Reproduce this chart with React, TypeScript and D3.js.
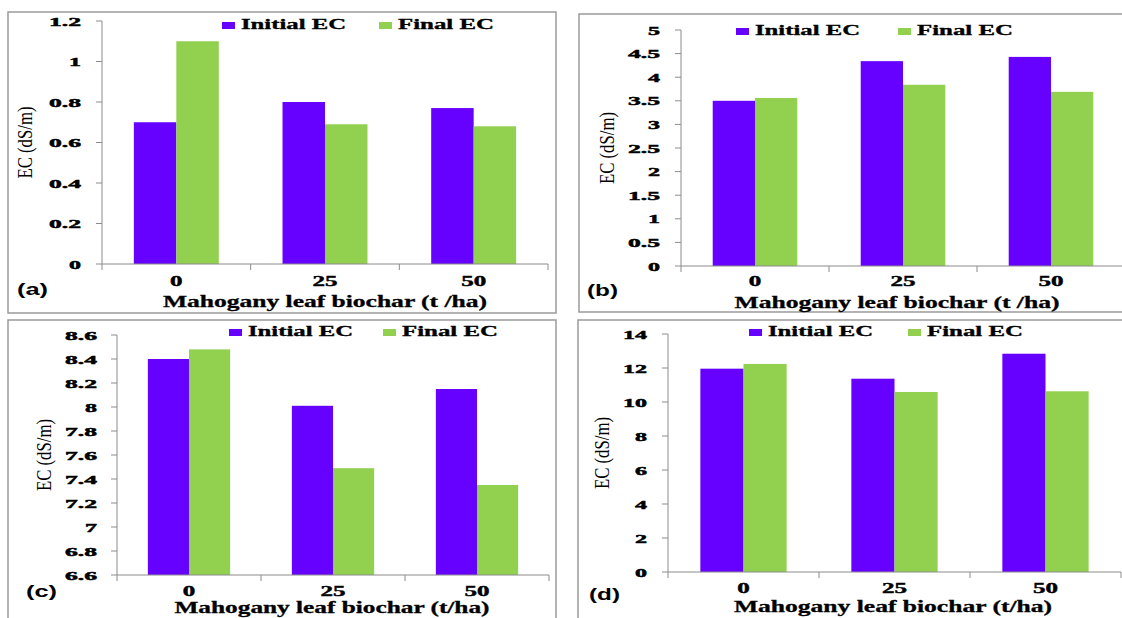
import React from 'react';
import * as d3 from 'd3';

// biochar rates and series
const categories = ['0', '25', '50'];
const seriesNames = ['Initial EC', 'Final EC'];
const colors = ['#6600FF', '#92D050'];

const initialA = [0.7, 0.8, 0.77];
const finalA = [1.1, 0.69, 0.68];
const initialB = [3.5, 4.34, 4.43];
const finalB = [3.56, 3.84, 3.69];
const initialC = [8.4, 8.01, 8.15];
const finalC = [8.48, 7.49, 7.35];
const initialD = [11.96, 11.37, 12.84];
const finalD = [12.24, 10.59, 10.63];

const ticksA = [0, 0.2, 0.4, 0.6, 0.8, 1, 1.2];
const ticksB = [0, 0.5, 1, 1.5, 2, 2.5, 3, 3.5, 4, 4.5, 5];
const ticksC = [6.6, 6.8, 7, 7.2, 7.4, 7.6, 7.8, 8, 8.2, 8.4, 8.6];
const ticksD = [0, 2, 4, 6, 8, 10, 12, 14];

const titleSpaced = 'Mahogany leaf biochar (t /ha)';
const titleTight = 'Mahogany leaf biochar (t/ha)';

const serif = '"Liberation Serif", "Times New Roman", serif';
const sans = '"Liberation Sans", Arial, sans-serif';

// the figure is stretched sideways, so widths are forced with textLength
const wide = (s: string, digit: number, dot: number) =>
    s.split('').reduce((w, ch) => w + (ch === '.' ? dot : digit), 0);

const WText = ({ x, y, len, size = 13, anchor = 'start', weight = 'bold', family = serif, heavy = 0, children }: any) => (
    <text x={x} y={y} textLength={len} lengthAdjust="spacingAndGlyphs" textAnchor={anchor}
        fontSize={size} fontWeight={weight} fontFamily={family} fill="#000"
        stroke={heavy ? '#000' : 'none'} strokeWidth={heavy}>
        {children}
    </text>
);

const Panel = ({ p }: any) => {
    const y = d3.scaleLinear().domain([p.ticks[0], p.ticks[p.ticks.length - 1]]).range([p.bottom, p.top]);
    const x = d3.scaleBand().domain(categories).range([p.left, p.right]).padding(0);
    const xs = d3.scaleBand().domain(seriesNames).range([0, x.bandwidth()]).paddingInner(0).paddingOuter(0.75);
    const series = [p.initial, p.final];
    const base = p.ticks[0];
    const fmt = (v: number) => d3.format('.1f')(v).replace(/\.0$/, '');

    return (
        <g>
            <rect x={p.box[0]} y={p.box[1]} width={p.box[2] - p.box[0]} height={p.box[3] - p.box[1]}
                fill="#fff" stroke="#9a9a9a" strokeWidth={1.5} />

            {series.map((vals: number[], si: number) =>
                vals.map((v, i) => (
                    <rect key={`b-${si}-${i}`}
                        x={(x(categories[i]) as number) + (xs(seriesNames[si]) as number)}
                        y={y(v)}
                        width={xs.bandwidth()}
                        height={y(base) - y(v)}
                        fill={colors[si]} />
                ))
            )}

            {/* y axis */}
            <line x1={p.left} x2={p.left} y1={p.top} y2={p.bottom} stroke="#8c8c8c" />
            {p.ticks.map((t: number) => (
                <g key={`yt-${t}`}>
                    <line x1={p.left - 6} x2={p.left} y1={y(t)} y2={y(t)} stroke="#8c8c8c" />
                    <WText x={p.tickRight - wide(fmt(t), 12, 8)} y={y(t) + 4.5} len={wide(fmt(t), 12, 8)} size={13} heavy={0.5}>
                        {fmt(t)}
                    </WText>
                </g>
            ))}

            {/* x axis */}
            <line x1={p.left} x2={p.right} y1={p.bottom} y2={p.bottom} stroke="#8c8c8c" />
            {d3.range(categories.length + 1).map(k => (
                <line key={`xt-${k}`} x1={p.left + k * x.step()} x2={p.left + k * x.step()}
                    y1={p.bottom} y2={p.bottom + 6} stroke="#8c8c8c" />
            ))}
            {categories.map(c => (
                <WText key={`xl-${c}`} x={(x(c) as number) + x.bandwidth() / 2 - wide(c, 12.5, 7) / 2} y={p.catY}
                    len={wide(c, 12.5, 7)} size={14} heavy={0.4}>{c}</WText>
            ))}

            <WText x={p.titleX - p.titleLen / 2} y={p.titleY} len={p.titleLen} size={16} heavy={0.3}>{p.title}</WText>

            <g transform={`translate(${p.yTitleX},${(p.top + p.bottom) / 2}) rotate(-90)`}>
                <text x={-36} y={0} textLength={72} lengthAdjust="spacingAndGlyphs" dominantBaseline="central"
                    fontSize={20} fontFamily={serif} fill="#000">EC (dS/m)</text>
            </g>

            <WText x={p.letter[0]} y={p.letter[1]} len={31} size={16} family={sans}>{p.label}</WText>

            {/* legend */}
            {seriesNames.map((s, i) => (
                <g key={`lg-${s}`}>
                    <rect x={p.legend[i]} y={p.legendY - 7} width={13} height={7} fill={colors[i]} />
                    <WText x={p.legend[i] + 19} y={p.legendY} len={i === 0 ? 105 : 96} size={14} heavy={0.3}>{s}</WText>
                </g>
            ))}
        </g>
    );
};

const panels = [
    {
        label: '(a)', initial: initialA, final: finalA, ticks: ticksA, title: titleSpaced,
        box: [8, 12, 556, 313], left: 102, right: 548, top: 21, bottom: 264, tickRight: 81,
        catY: 286, titleX: 325, titleY: 307, titleLen: 324, yTitleX: 25, letter: [17, 295],
        legend: [222, 379], legendY: 29,
    },
    {
        label: '(b)', initial: initialB, final: finalB, ticks: ticksB, title: titleSpaced,
        box: [579, 14, 1130, 312], left: 681, right: 1125, top: 30, bottom: 266, tickRight: 660,
        catY: 286, titleX: 897, titleY: 308, titleLen: 325, yTitleX: 607, letter: [587, 296],
        legend: [736, 898], legendY: 35,
    },
    {
        label: '(c)', initial: initialC, final: finalC, ticks: ticksC, title: titleTight,
        box: [8, 320, 556, 630], left: 117, right: 549, top: 335, bottom: 575, tickRight: 97,
        catY: 596, titleX: 332, titleY: 613, titleLen: 315, yTitleX: 44, letter: [26, 597],
        legend: [229, 383], legendY: 336,
    },
    {
        label: '(d)', initial: initialD, final: finalD, ticks: ticksD, title: titleTight,
        box: [578, 320, 1130, 630], left: 668, right: 1121, top: 334, bottom: 572, tickRight: 647,
        catY: 593, titleX: 893, titleY: 612, titleLen: 318, yTitleX: 602, letter: [589, 600],
        legend: [749, 908], legendY: 336,
    },
];

const App = () => (
    <svg width={1122} height={618} viewBox="0 0 1122 618"
        style={{ position: 'absolute', left: 0, top: 0, background: '#fff' }}>
        <rect x={0} y={0} width={1122} height={618} fill="#fff" />
        {panels.map(p => <Panel key={p.label} p={p} />)}
    </svg>
);

export default App;
